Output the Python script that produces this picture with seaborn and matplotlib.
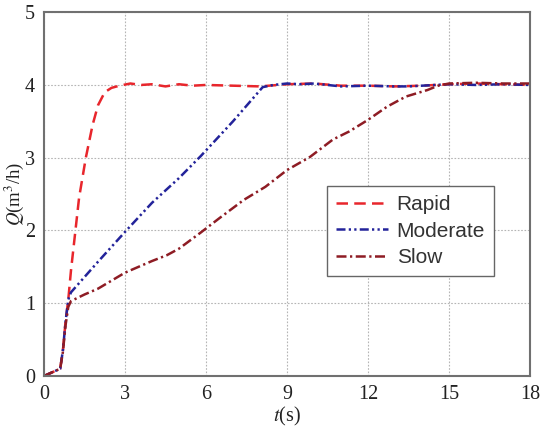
import matplotlib
matplotlib.use("Agg")
import matplotlib.pyplot as plt
import seaborn as sns

# data
t_rapid = [0, 0.3, 0.6, 0.7, 0.8, 0.9, 1.0, 1.15, 1.3, 1.55, 1.8, 2.0, 2.25, 2.5, 2.8,
           3.2, 3.6, 4.0, 4.5, 5.0, 5.5, 6.0, 7.0, 8.0, 9.0, 10, 11, 12, 13, 14, 15, 16, 17, 18]
q_rapid = [0, 0.05, 0.1, 0.35, 0.75, 1.05, 1.45, 1.95, 2.45, 3.0, 3.45, 3.72, 3.9, 3.96, 3.99,
           4.02, 4.0, 4.01, 3.98, 4.01, 3.99, 4.0, 3.99, 3.98, 4.01, 4.02, 3.99, 3.99, 3.98, 3.99, 4.01, 4.02, 4.01, 4.0]

t_moderate = [0, 0.3, 0.6, 0.7, 0.8, 0.9, 1.0, 2.0, 3.0, 4.0, 5.0, 5.8, 7.0, 8.1, 8.5, 9.0,
              9.5, 10, 10.5, 11, 12, 13, 13.5, 14, 15, 16, 17, 18]
q_moderate = [0, 0.05, 0.1, 0.35, 0.75, 1.05, 1.15, 1.57, 1.98, 2.38, 2.72, 3.02, 3.5, 3.97, 4.0, 4.02,
              4.01, 4.02, 4.0, 3.98, 3.99, 3.98, 3.98, 3.99, 4.01, 4.0, 4.01, 4.0]

t_slow = [0, 0.3, 0.6, 0.7, 0.8, 0.9, 1.0, 1.5, 2.0, 3.0, 4.0, 4.55, 5.0, 5.8, 6.5, 7.4, 8.2,
          9.0, 9.85, 10.7, 11.3, 12.0, 12.7, 13.4, 14.2, 14.6, 15, 16, 17, 18]
q_slow = [0, 0.05, 0.1, 0.33, 0.7, 0.95, 1.03, 1.12, 1.2, 1.42, 1.58, 1.66, 1.75, 1.97, 2.17, 2.42, 2.6,
          2.83, 3.01, 3.25, 3.36, 3.52, 3.7, 3.84, 3.93, 3.99, 4.02, 4.03, 4.02, 4.02]

x_ticks = [0, 3, 6, 9, 12, 15, 18]
y_ticks = [0, 1, 2, 3, 4, 5]

sns.set_style("white")
plt.rcParams["mathtext.fontset"] = "stix"
plt.rcParams["font.family"] = ["Liberation Serif", "DejaVu Serif"]

fig = plt.figure(figsize=(5.43, 4.28), dpi=100)
ax = fig.add_axes([0.081, 0.1215, 0.895, 0.850])

lw = 1.8
sns.lineplot(x=t_rapid, y=q_rapid, ax=ax, color="#e8262c", lw=lw,
             linestyle=(0, (4.6, 2.5)), label="Rapid", estimator=None, sort=False)
sns.lineplot(x=t_moderate, y=q_moderate, ax=ax, color="#23239a", lw=lw,
             linestyle=(0, (3.6, 1.3, 0.9, 1.3, 0.9, 1.3)), label="Moderate", estimator=None, sort=False)
sns.lineplot(x=t_slow, y=q_slow, ax=ax, color="#8e1c24", lw=lw,
             linestyle=(0, (4.0, 1.4, 0.9, 1.4)), label="Slow", estimator=None, sort=False)

ax.set_xlim(0, 18)
ax.set_ylim(0, 5)
ax.set_xticks(x_ticks)
ax.set_yticks(y_ticks)
ax.set_xticks([1.5, 4.5, 7.5, 10.5, 13.5, 16.5], minor=True)
ax.set_yticks([0.5, 1.5, 2.5, 3.5, 4.5], minor=True)
ax.tick_params(which="major", direction="inout", length=7, width=1.0, color="#666666",
               labelsize=14.5, labelcolor="#222222", pad=3)
ax.tick_params(which="minor", direction="in", length=3.5, width=0.9, color="#666666")
ax.grid(True, which="major", linestyle=(0, (1.5, 1.5)), color="#b5b5b5", lw=0.8)

for side in ["left", "bottom", "top", "right"]:
    ax.spines[side].set_color("#707070")
    ax.spines[side].set_linewidth(1.5)

ax.set_xlabel(r"$t$(s)", fontsize=14.5, color="#222222", labelpad=1)
ax.set_ylabel(r"$Q$(m$^3$/h)", fontsize=13.5, color="#222222", labelpad=-1)

leg = ax.legend(loc="upper left", bbox_to_anchor=(0.582, 0.522), fancybox=False,
                edgecolor="#666666", framealpha=1, handlelength=2.5, handletextpad=0.4,
                borderpad=0.45, labelspacing=0.35, borderaxespad=0,
                prop={"family": "Liberation Sans", "size": 15})
leg.get_frame().set_linewidth(1.0)
for txt in leg.get_texts():
    txt.set_color("#333333")

fig.savefig("out.png", dpi=100)
